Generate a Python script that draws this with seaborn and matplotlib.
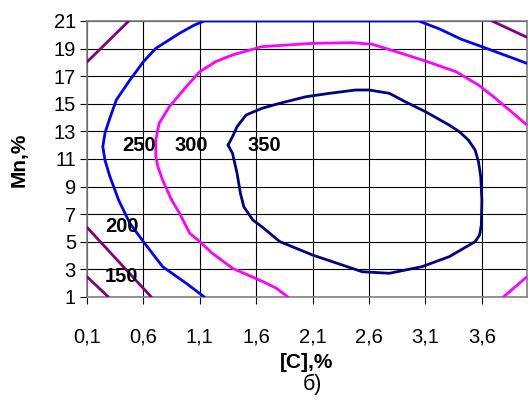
import numpy as np
import pandas as pd
import matplotlib
matplotlib.use('Agg')
import matplotlib.pyplot as plt
import seaborn as sns

# contour lines: [C],% (x) vs Mn,% (y)
c150_x = [0.10, 0.29]
c150_y = [2.47, 1.00]

c200a_x = [0.10, 0.67]
c200a_y = [6.05, 1.00]
c200b_x = [0.10, 0.47]
c200b_y = [18.03, 21.00]
c200c_x = [3.69, 4.00]
c200c_y = [21.00, 19.82]

c250_x = [1.14, 0.98, 0.77, 0.60, 0.48, 0.38, 0.30, 0.26, 0.24, 0.26, 0.30, 0.36,
          0.48, 0.60, 0.71, 0.92, 1.05, 1.14, 3.04, 3.22, 3.42, 3.60, 4.00]
c250_y = [1.00, 1.99, 3.20, 5.01, 6.34, 8.03, 9.80, 10.90, 11.89, 12.90, 13.90, 15.28,
          16.72, 18.05, 19.02, 20.11, 20.70, 21.00, 21.00, 20.44, 19.67, 19.14, 17.93]

c300a_x = [1.88, 1.78, 1.66, 1.39, 1.21, 1.10, 1.01, 0.92, 0.85, 0.77, 0.73, 0.71,
           0.71, 0.74, 0.83, 0.98, 1.10, 1.24, 1.39, 1.65, 2.10, 2.45, 2.63, 2.84,
           3.10, 3.37, 3.57, 3.72, 4.00]
c300a_y = [1.00, 1.63, 2.11, 3.08, 4.17, 5.01, 5.62, 7.07, 8.03, 9.48, 10.40, 11.17,
           12.38, 13.59, 14.79, 16.24, 17.33, 18.05, 18.54, 19.14, 19.38, 19.43, 19.31, 18.78,
           18.10, 17.33, 16.36, 15.40, 13.46]
c300b_x = [3.79, 4.00]
c300b_y = [1.00, 2.47]

c350_x = [1.35, 1.39, 1.43, 1.46, 1.49, 1.57, 1.65, 1.81, 2.10, 2.54, 2.78, 3.07,
          3.31, 3.54, 3.58, 3.595, 3.60, 3.59, 3.57, 3.54, 3.48, 3.40, 3.31, 3.10,
          2.92, 2.78, 2.60, 2.48, 2.25, 2.04, 1.81, 1.65, 1.51, 1.43, 1.39, 1.35]
c350_y = [12.01, 11.41, 9.96, 8.51, 7.54, 6.58, 6.09, 5.01, 4.04, 2.83, 2.72, 3.20,
          3.92, 5.01, 5.50, 6.20, 8.03, 9.72, 10.80, 11.65, 12.38, 12.98, 13.46, 14.43,
          15.15, 15.76, 16.00, 16.00, 15.76, 15.51, 15.04, 14.67, 14.19, 13.34, 12.62, 12.01]

level_labels = ['150', '200', '250', '300', '350']
label_x = [0.41, 0.41, 0.56, 1.02, 1.67]
label_y = [2.52, 6.09, 12.0, 12.0, 12.0]

x_ticks = [0.1, 0.6, 1.1, 1.6, 2.1, 2.6, 3.1, 3.6]
y_ticks = list(range(1, 22, 2))

sns.set_theme(style='white')
plt.rcParams['font.family'] = ['Liberation Sans', 'DejaVu Sans']
plt.rcParams['text.color'] = 'black'
plt.rcParams['xtick.color'] = 'black'
plt.rcParams['ytick.color'] = 'black'

fig = plt.figure(figsize=(5.28, 4.03), dpi=100)
ax = fig.add_axes([87 / 528, 1 - 297 / 403, 440 / 528, 276 / 403])

purple = '#800080'
segments = [
    (c150_x, c150_y, purple),
    (c200a_x, c200a_y, purple),
    (c200b_x, c200b_y, purple),
    (c200c_x, c200c_y, purple),
    (c250_x, c250_y, '#0000ff'),
    (c300a_x, c300a_y, '#ff00ff'),
    (c300b_x, c300b_y, '#ff00ff'),
    (c350_x, c350_y, '#000080'),
]
for xs, ys, col in segments:
    sns.lineplot(x=xs, y=ys, sort=False, estimator=None, color=col, lw=2, ax=ax,
                 zorder=3)

for t, tx, ty in zip(level_labels, label_x, label_y):
    ax.text(tx, ty, t, ha='center', va='center', fontsize=14.5, fontweight='bold',
            color='black', zorder=4)

ax.set_xlim(0.1, 4.0)
ax.set_ylim(1, 21)
ax.set_xticks(x_ticks)
ax.set_xticklabels([f'{v:.1f}'.replace('.', ',') for v in x_ticks])
ax.set_yticks(y_ticks)
ax.grid(True, color='black', lw=0.8)
ax.set_axisbelow(True)
for s in ax.spines.values():
    s.set_color('#808080')
    s.set_linewidth(1.2)
ax.tick_params(axis='x', direction='out', length=5, width=0.8, color='black',
               labelcolor='black', pad=17, labelsize=14.5, bottom=True)
ax.tick_params(axis='y', direction='out', length=5, width=0.8, color='black',
               labelcolor='black', pad=3, labelsize=14.5, left=True)

fig.text(307 / 528, 1 - 362 / 403, '[C],%', ha='center', va='center',
         fontsize=15, fontweight='bold', color='black')
fig.text(19 / 528, 1 - 160 / 403, 'Mn,%', ha='center', va='center',
         fontsize=15, fontweight='bold', rotation=90, color='black')
fig.text(312 / 528, 1 - 384 / 403, 'б)', ha='center', va='center', fontsize=15.5,
         color='black')

fig.savefig('out.png', dpi=100)
